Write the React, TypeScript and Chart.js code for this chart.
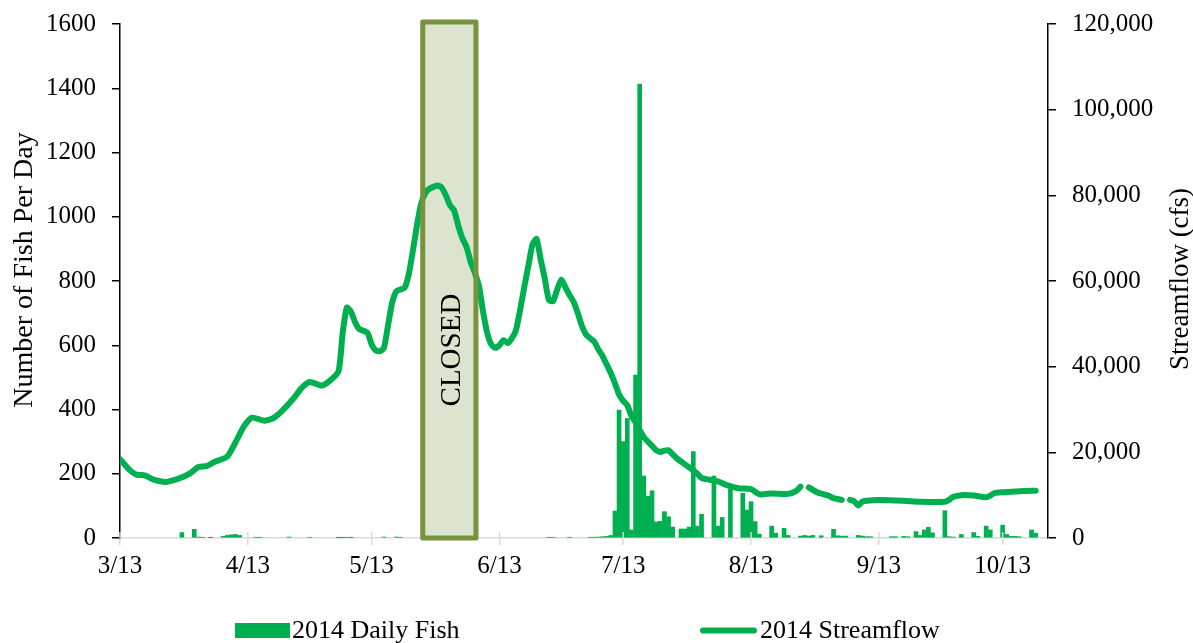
import React, { useEffect, useRef } from 'react';
import { Chart, registerables } from 'chart.js';

Chart.register(...registerables);

// Days are counted from 3/13/2014 (day 0)
const xTickLabels = ['3/13', '4/13', '5/13', '6/13', '7/13', '8/13', '9/13', '10/13'];
const xTickDays = [0, 31, 61, 92, 122, 153, 184, 214];

const fishDays = [
  15, 18, 19, 20, 22, 25, 26, 27, 28, 29, 33, 34, 41, 46, 53, 54, 55, 56, 64, 67, 68,
  104, 105, 109, 114, 115, 116, 117, 118, 119, 120, 121, 122, 123, 124, 125, 126, 127, 128, 129,
  130, 131, 132, 133, 134, 136, 137, 138, 139, 140, 141, 144, 145, 146, 148, 151, 152, 153, 154, 155,
  158, 159, 161, 162, 165, 166, 167, 168, 170, 173, 174, 175, 176, 179, 180, 181, 182, 187, 188, 190,
  191, 193, 194, 195, 196, 197, 200, 201, 202, 204, 207, 208, 210, 211, 214, 215, 216, 217, 218, 221, 222,
];
const fishCounts = [
  17, 27, 3, 2, 1, 5, 8, 10, 11, 8, 2, 2, 3, 2, 1, 1, 2, 1, 3, 3, 2,
  2, 2, 2, 2, 2, 3, 4, 5, 8, 84, 398, 300, 372, 25, 507, 1413, 193, 130, 147,
  50, 52, 82, 66, 34, 28, 28, 34, 269, 37, 74, 193, 37, 64, 165, 139, 87, 113, 51, 12,
  37, 15, 30, 8, 6, 8, 6, 8, 7, 27, 7, 6, 6, 8, 6, 4, 4, 4, 4, 5,
  4, 20, 8, 25, 33, 16, 85, 4, 3, 11, 17, 5, 37, 25, 40, 11, 5, 5, 4, 25, 15,
];

const flowDays = [
  0, 2, 4, 6, 8, 11, 14, 17, 19, 21,
  23, 26, 28, 30, 32, 35, 37, 39, 42, 44,
  46, 49, 51, 53, 54, 55, 56, 57, 58, 60,
  61, 62, 63, 64, 65, 66, 67, 68, 69, 70,
  71, 72, 73, 74, 75, 77, 78, 79, 80, 81,
  82, 83, 84, 85, 86, 87, 88, 89, 90, 91,
  92, 93, 94, 95, 96, 97, 98, 99, 100, 101,
  102, 103, 104, 105, 106, 107, 108, 109, 110, 111,
  112, 113, 114, 115, 116, 117, 118, 119, 120, 121,
  122, 123, 124, 125, 126, 127, 128, 129, 130, 131,
  132, 133, 134, 135, 137, 138, 140, 141, 143, 145,
  147, 150, 153, 155, 158, 162, 164, 165, 166, 167,
  169, 172, 173, 175, 176, 177, 178, 179, 180, 181,
  184, 190, 194, 200, 201, 202, 204, 207, 210, 211,
  212, 214, 216, 219, 222,
];
const flowValues: (number | null)[] = [
  18400, 16200, 14800, 14600, 13700, 13100, 13800, 15100, 16600, 16800,
  17800, 19000, 22300, 26000, 28100, 27400, 27900, 29400, 32500, 35000,
  36400, 35600, 36800, 39000, 48000, 53800, 52800, 50400, 48800, 47900,
  45200, 43800, 43600, 44400, 49700, 55000, 57600, 58000, 58400, 61500,
  67000, 73000, 78000, 80500, 81500, 82300, 81800, 80000, 77700, 76500,
  73000, 70000, 68000, 64500, 62000, 59000, 53000, 48000, 45200, 44400,
  45000, 46200, 45500, 46600, 48500, 53200, 58500, 63500, 68500, 69800,
  65000, 60500, 55500, 55300, 58000, 60300, 58500, 56700, 55100, 52500,
  49500, 47500, 46600, 45800, 44000, 42500, 40500, 38500, 36100, 33500,
  32000, 31000, 28500, 27000, 25200, 23500, 22500, 21500, 20500, 20100,
  20400, 20500, 19500, 18600, 17200, 16500, 15000, 14000, 13600, 13200,
  12400, 11600, 11400, 10200, 10400, 10300, 11000, 12000, null, 11800,
  10700, 9800, 9300, 8900, null, 8900, 8600, 7600, 8500, 8700,
  8870, 8700, 8470, 8470, 8900, 9600, 10000, 9900, 9500, 9900,
  10500, 10700, 10800, 11000, 11040,
];

// Closed period (day index) and the box top (fish axis units)
const closedFrom = 73.4;
const closedTo = 86.3;
const closedTop = 1606;

const FONT = '"Liberation Serif", "Times New Roman", Times, serif';
const GREEN = '#00b050';

export default function App() {
  const ref = useRef<HTMLCanvasElement>(null);

  useEffect(() => {
    document.body.style.margin = '0';
    const W = 1193;
    const H = 643;
    const plotLeft = 120;
    const plotRight = 1048;
    const plotTop = 24;
    const plotBottom = 538;

    const overlay = {
      id: 'overlay',
      beforeDatasetsDraw(chart: any) {
        const { ctx } = chart;
        const xs = chart.scales.x;
        const ys = chart.scales.y;
        const x1 = xs.getPixelForValue(closedFrom);
        const x2 = xs.getPixelForValue(closedTo);
        const yT = ys.getPixelForValue(closedTop);
        const yB = ys.getPixelForValue(0);
        ctx.save();
        ctx.fillStyle = '#dce3cf';
        ctx.fillRect(x1, yT, x2 - x1, yB - yT);
        ctx.translate((x1 + x2) / 2 + 3, ys.getPixelForValue(585));
        ctx.rotate(-Math.PI / 2);
        ctx.fillStyle = '#000';
        ctx.font = `29px ${FONT}`;
        ctx.textAlign = 'center';
        ctx.textBaseline = 'middle';
        ctx.fillText('CLOSED', 0, 0);
        ctx.restore();
      },
      afterDatasetsDraw(chart: any) {
        const { ctx } = chart;
        const xs = chart.scales.x;
        const ys = chart.scales.y;
        const x1 = xs.getPixelForValue(closedFrom);
        const x2 = xs.getPixelForValue(closedTo);
        const yT = ys.getPixelForValue(closedTop);
        const yB = ys.getPixelForValue(0);
        ctx.save();
        // x-axis tick marks crossing the axis
        ctx.strokeStyle = '#d9d9d9';
        ctx.lineWidth = 1.5;
        xTickDays.forEach((d) => {
          const px = xs.getPixelForValue(d);
          ctx.beginPath();
          ctx.moveTo(px, yB - 6);
          ctx.lineTo(px, yB);
          ctx.stroke();
        });
        ctx.strokeStyle = '#77933c';
        ctx.lineWidth = 5;
        ctx.lineJoin = 'round';
        ctx.strokeRect(x1, yT, x2 - x1, yB - yT);
        ctx.restore();
      },
      afterDraw(chart: any) {
        const { ctx, chartArea } = chart;
        const midY = (chartArea.top + chartArea.bottom) / 2;
        ctx.save();
        ctx.fillStyle = '#000';
        ctx.textAlign = 'center';
        ctx.textBaseline = 'middle';
        ctx.font = `28px ${FONT}`;
        ctx.save();
        ctx.translate(25, midY - 11);
        ctx.rotate(-Math.PI / 2);
        ctx.fillText('Number of Fish Per Day', 0, 0);
        ctx.restore();
        ctx.font = `27px ${FONT}`;
        ctx.save();
        ctx.translate(1181, midY - 2);
        ctx.rotate(-Math.PI / 2);
        ctx.fillText('Streamflow (cfs)', 0, 0);
        ctx.restore();

        // legend
        const ly = 630.5;
        ctx.font = `26px ${FONT}`;
        ctx.textAlign = 'left';
        ctx.fillStyle = GREEN;
        ctx.fillRect(235, ly - 7.5, 55, 15);
        ctx.fillStyle = '#000';
        ctx.fillText('2014 Daily Fish', 292, ly + 1);
        ctx.strokeStyle = GREEN;
        ctx.lineWidth = 6;
        ctx.lineCap = 'round';
        ctx.beginPath();
        ctx.moveTo(703, ly);
        ctx.lineTo(754, ly);
        ctx.stroke();
        ctx.fillText('2014 Streamflow', 760, ly + 1);
        ctx.restore();
      },
    };

    const noPad = (s: any) => {
      s.paddingTop = 0;
      s.paddingBottom = 0;
      s.paddingLeft = 0;
      s.paddingRight = 0;
    };

    const chart = new Chart(ref.current as HTMLCanvasElement, {
      type: 'bar',
      data: {
        datasets: [
          {
            type: 'line',
            label: '2014 Streamflow',
            data: flowDays.map((d, i) => ({ x: d, y: flowValues[i] })) as any,
            yAxisID: 'y1',
            xAxisID: 'x',
            borderColor: GREEN,
            backgroundColor: GREEN,
            borderWidth: 6,
            pointRadius: 0,
            tension: 0.2,
            borderCapStyle: 'round',
            borderJoinStyle: 'round',
            spanGaps: false,
            order: 0,
          } as any,
          {
            type: 'bar',
            label: '2014 Daily Fish',
            data: fishDays.map((d, i) => ({ x: d, y: fishCounts[i] })) as any,
            yAxisID: 'y',
            xAxisID: 'x',
            backgroundColor: GREEN,
            borderWidth: 0,
            barThickness: 4,
            order: 1,
          } as any,
        ],
      },
      options: {
        responsive: false,
        animation: false,
        layout: { autoPadding: false, padding: { top: plotTop, left: 0, right: 0, bottom: 0 } },
        plugins: {
          legend: { display: false },
          tooltip: { enabled: false },
        },
        scales: {
          x: {
            type: 'linear',
            min: 0,
            max: 225,
            offset: false,
            afterBuildTicks: (axis: any) => {
              axis.ticks = xTickDays.map((v) => ({ value: v }));
            },
            afterFit: (s: any) => {
              s.height = H - plotBottom;
              noPad(s);
            },
            ticks: {
              autoSkip: false,
              maxRotation: 0,
              color: '#000',
              padding: 6,
              font: { family: FONT, size: 25 },
              callback: (v: any) => {
                const i = xTickDays.indexOf(Number(v));
                return i >= 0 ? xTickLabels[i] : '';
              },
            },
            grid: {
              drawOnChartArea: false,
              drawTicks: true,
              tickLength: 7,
              color: '#d9d9d9',
              lineWidth: 1.5,
              offset: false,
            },
            border: { display: true, color: '#d9d9d9', width: 1.5 },
          } as any,
          y: {
            type: 'linear',
            position: 'left',
            min: 0,
            max: 1600,
            afterFit: (s: any) => {
              s.width = plotLeft;
              noPad(s);
            },
            ticks: {
              stepSize: 200,
              color: '#000',
              padding: 16,
              font: { family: FONT, size: 25 },
              callback: (v: any) => String(v),
            },
            grid: {
              drawOnChartArea: false,
              drawTicks: true,
              tickLength: 8,
              color: '#000',
              lineWidth: 1.5,
            },
            border: { display: true, color: '#000', width: 1.5 },
          } as any,
          y1: {
            type: 'linear',
            position: 'right',
            min: 0,
            max: 120000,
            afterFit: (s: any) => {
              s.width = W - plotRight;
              noPad(s);
            },
            ticks: {
              stepSize: 20000,
              color: '#000',
              padding: 16,
              font: { family: FONT, size: 25 },
              callback: (v: any) => Number(v).toLocaleString('en-US'),
            },
            grid: {
              drawOnChartArea: false,
              drawTicks: true,
              tickLength: 8,
              color: '#000',
              lineWidth: 1.5,
            },
            border: { display: true, color: '#000', width: 1.5 },
          } as any,
        },
      },
      plugins: [overlay as any],
    });

    return () => chart.destroy();
  }, []);

  return (
    <div style={{ position: 'absolute', left: 0, top: 0, width: 1193, height: 643 }}>
      <canvas ref={ref} width={1193} height={643} style={{ display: 'block' }} />
    </div>
  );
}
